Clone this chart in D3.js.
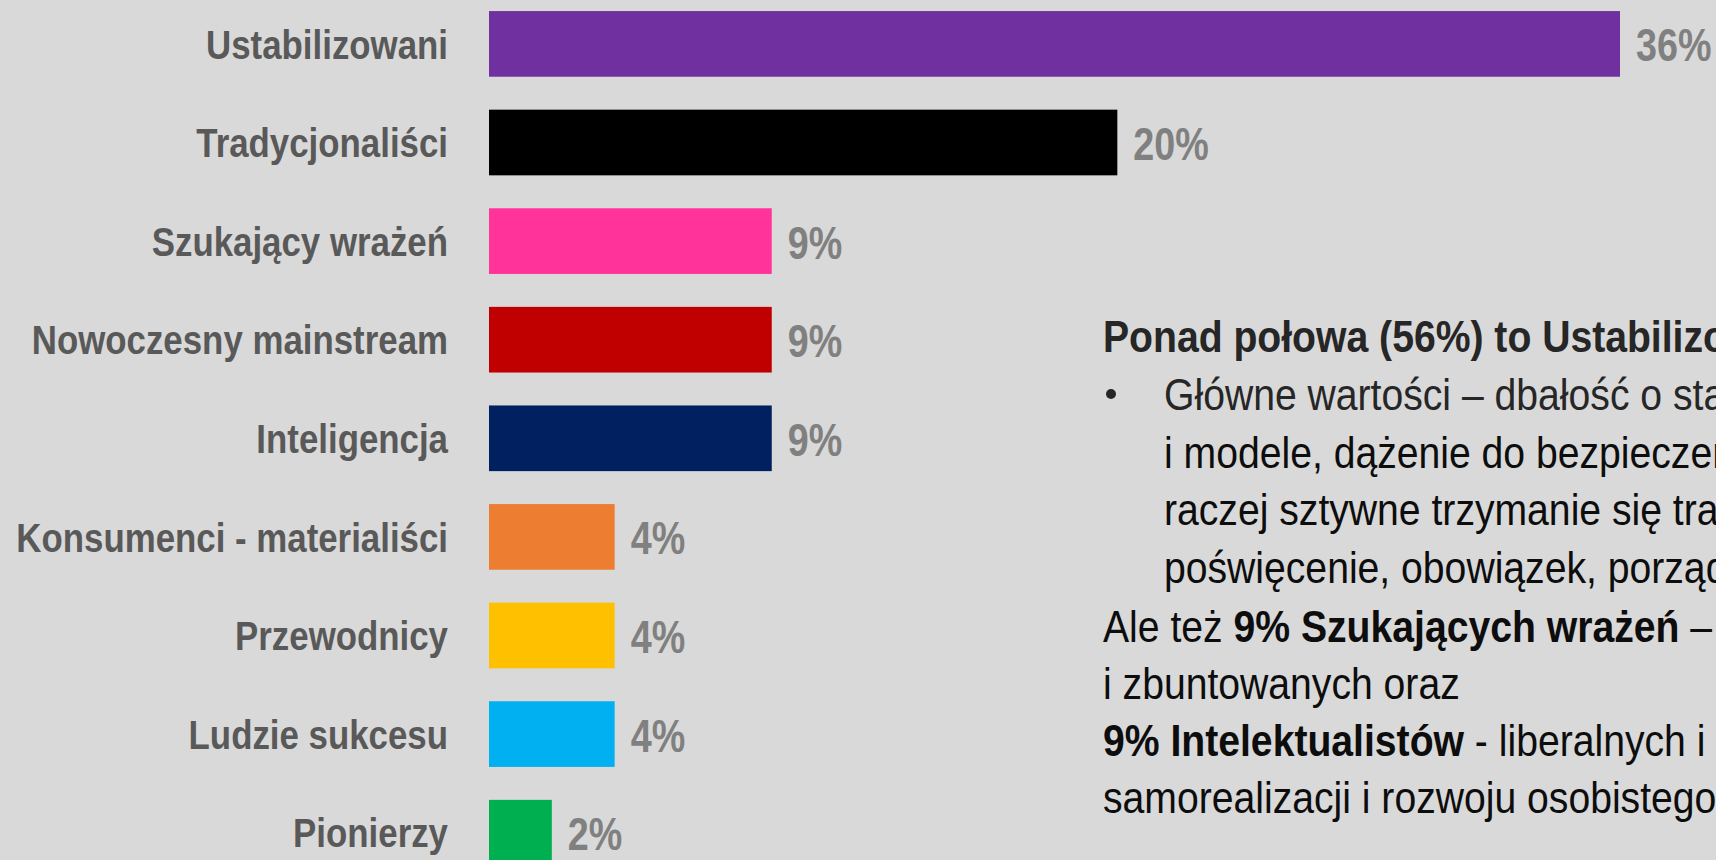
<!DOCTYPE html>
<html lang="pl">
<head>
<meta charset="utf-8">
<title>Segmenty</title>
<style>
    body { margin: 0; background: #d9d9d9; overflow: hidden; }
    svg { display: block; }
    text { font-family: 'Liberation Sans', Arial, sans-serif; }
    .cat { font-weight: bold; fill: #595959; }
    .val { font-weight: bold; fill: #808080; }
    .note { fill: #0d0d0d; }
</style>
<script src="https://d3js.org/d3.v7.min.js"></script>
</head>
<body>
<div id="chart"></div>
<script>

    // data
    var categories = ["Ustabilizowani", "Tradycjonaliści", "Szukający wrażeń", "Nowoczesny mainstream",
        "Inteligencja", "Konsumenci - materialiści", "Przewodnicy", "Ludzie sukcesu", "Pionierzy"]
    var values = [36, 20, 9, 9, 9, 4, 4, 4, 2]
    var valueLabels = ["36%", "20%", "9%", "9%", "9%", "4%", "4%", "4%", "2%"]

    // note text on the right, each line is a list of [text, bold]
    var noteTitle = "Ponad połowa (56%) to Ustabilizowani"
    var noteBullet = [
        "Główne wartości – dbałość o stabilność",
        "i modele, dążenie do bezpieczeństwa",
        "raczej sztywne trzymanie się tradycji",
        "poświęcenie, obowiązek, porządek"
    ]
    var noteLines = [
        [["Ale też ", false], ["9% Szukających wrażeń", true], [" –", false]],
        [["i zbuntowanych oraz", false]],
        [["9% Intelektualistów", true], [" - liberalnych i", false]],
        [["samorealizacji i rozwoju osobistego", false]]
    ]

    var palette = ["#7030a0", "#000000", "#ff3399", "#c00000", "#002060", "#ed7d31", "#ffc000", "#00b0f0", "#00b050"]

    var width = 1716
    var height = 860
    // no narrow font installed, so squeeze a normal one
    var narrowCat = 0.85
    var narrowVal = 0.82
    var narrowNote = 0.87

    var svg = d3.select("#chart")
        .append("svg")
        .attr("width", width)
        .attr("height", height)

    svg.append("rect")
        .attr("width", width)
        .attr("height", height)
        .attr("fill", "#d9d9d9")

    var data = categories.map(function(c, i) { return {cat: c, value: values[i], label: valueLabels[i]} })

    var x = d3.scaleLinear()
        .domain([0, 36])
        .range([489, 1620])

    var y = d3.scaleBand()
        .domain(categories)
        .range([-5.4, 882])
        .paddingInner(0.334)
        .paddingOuter(0.167)

    var color = d3.scaleOrdinal()
        .domain(categories)
        .range(palette)

    // bars
    svg.selectAll("rect.bar")
        .data(data)
        .enter()
        .append("rect")
        .attr("class", "bar")
        .attr("x", x(0))
        .attr("y", function(d) { return y(d.cat) })
        .attr("width", function(d) { return x(d.value) - x(0) })
        .attr("height", y.bandwidth())
        .attr("fill", function(d) { return color(d.cat) })

    // category labels (y axis without line / ticks)
    var yAxis = svg.append("g")
        .attr("transform", "translate(" + (x(0) - 41) + ",0)")
        .call(d3.axisLeft(y).tickSize(0).tickPadding(0))
    yAxis.select(".domain").remove()
    yAxis.selectAll("text")
        .attr("class", "cat")
        .attr("fill", null)
        .attr("x", 0)
        .attr("dy", "0.36em")
        .attr("transform", "scale(" + narrowCat + ",1)")
        .style("font-size", "41px")

    // value labels
    svg.selectAll("text.val")
        .data(data)
        .enter()
        .append("text")
        .attr("class", "val")
        .attr("transform", function(d) {
            return "translate(" + (x(d.value) + 16) + "," + (y(d.cat) + y.bandwidth() / 2) + ") scale(" + narrowVal + ",1)"
        })
        .attr("dy", "0.38em")
        .style("font-size", "46px")
        .text(function(d) { return d.label })

    // note block
    var lineH = 57.6
    var note = svg.append("g").attr("class", "note").style("font-size", "45px")

    function place(px, py) { return "translate(" + px + "," + py + ") scale(" + narrowNote + ",1)" }

    note.append("text")
        .attr("transform", place(1103, 352))
        .style("font-weight", "bold")
        .style("fill", "#262626")
        .text(noteTitle)

    note.append("circle")
        .attr("cx", 1111)
        .attr("cy", 410 - 16)
        .attr("r", 5)
        .attr("fill", "#262626")

    noteBullet.forEach(function(line, i) {
        note.append("text")
            .attr("transform", place(1164, 410 + i * lineH))
            .style("fill", i == 0 ? "#262626" : "#0d0d0d")
            .text(line)
    })

    noteLines.forEach(function(parts, i) {
        var t = note.append("text")
            .attr("transform", place(1103, 642 + i * 57))
        parts.forEach(function(p) {
            t.append("tspan")
                .style("font-weight", p[1] ? "bold" : "normal")
                .text(p[0])
        })
    })

</script>
</body>
</html>
